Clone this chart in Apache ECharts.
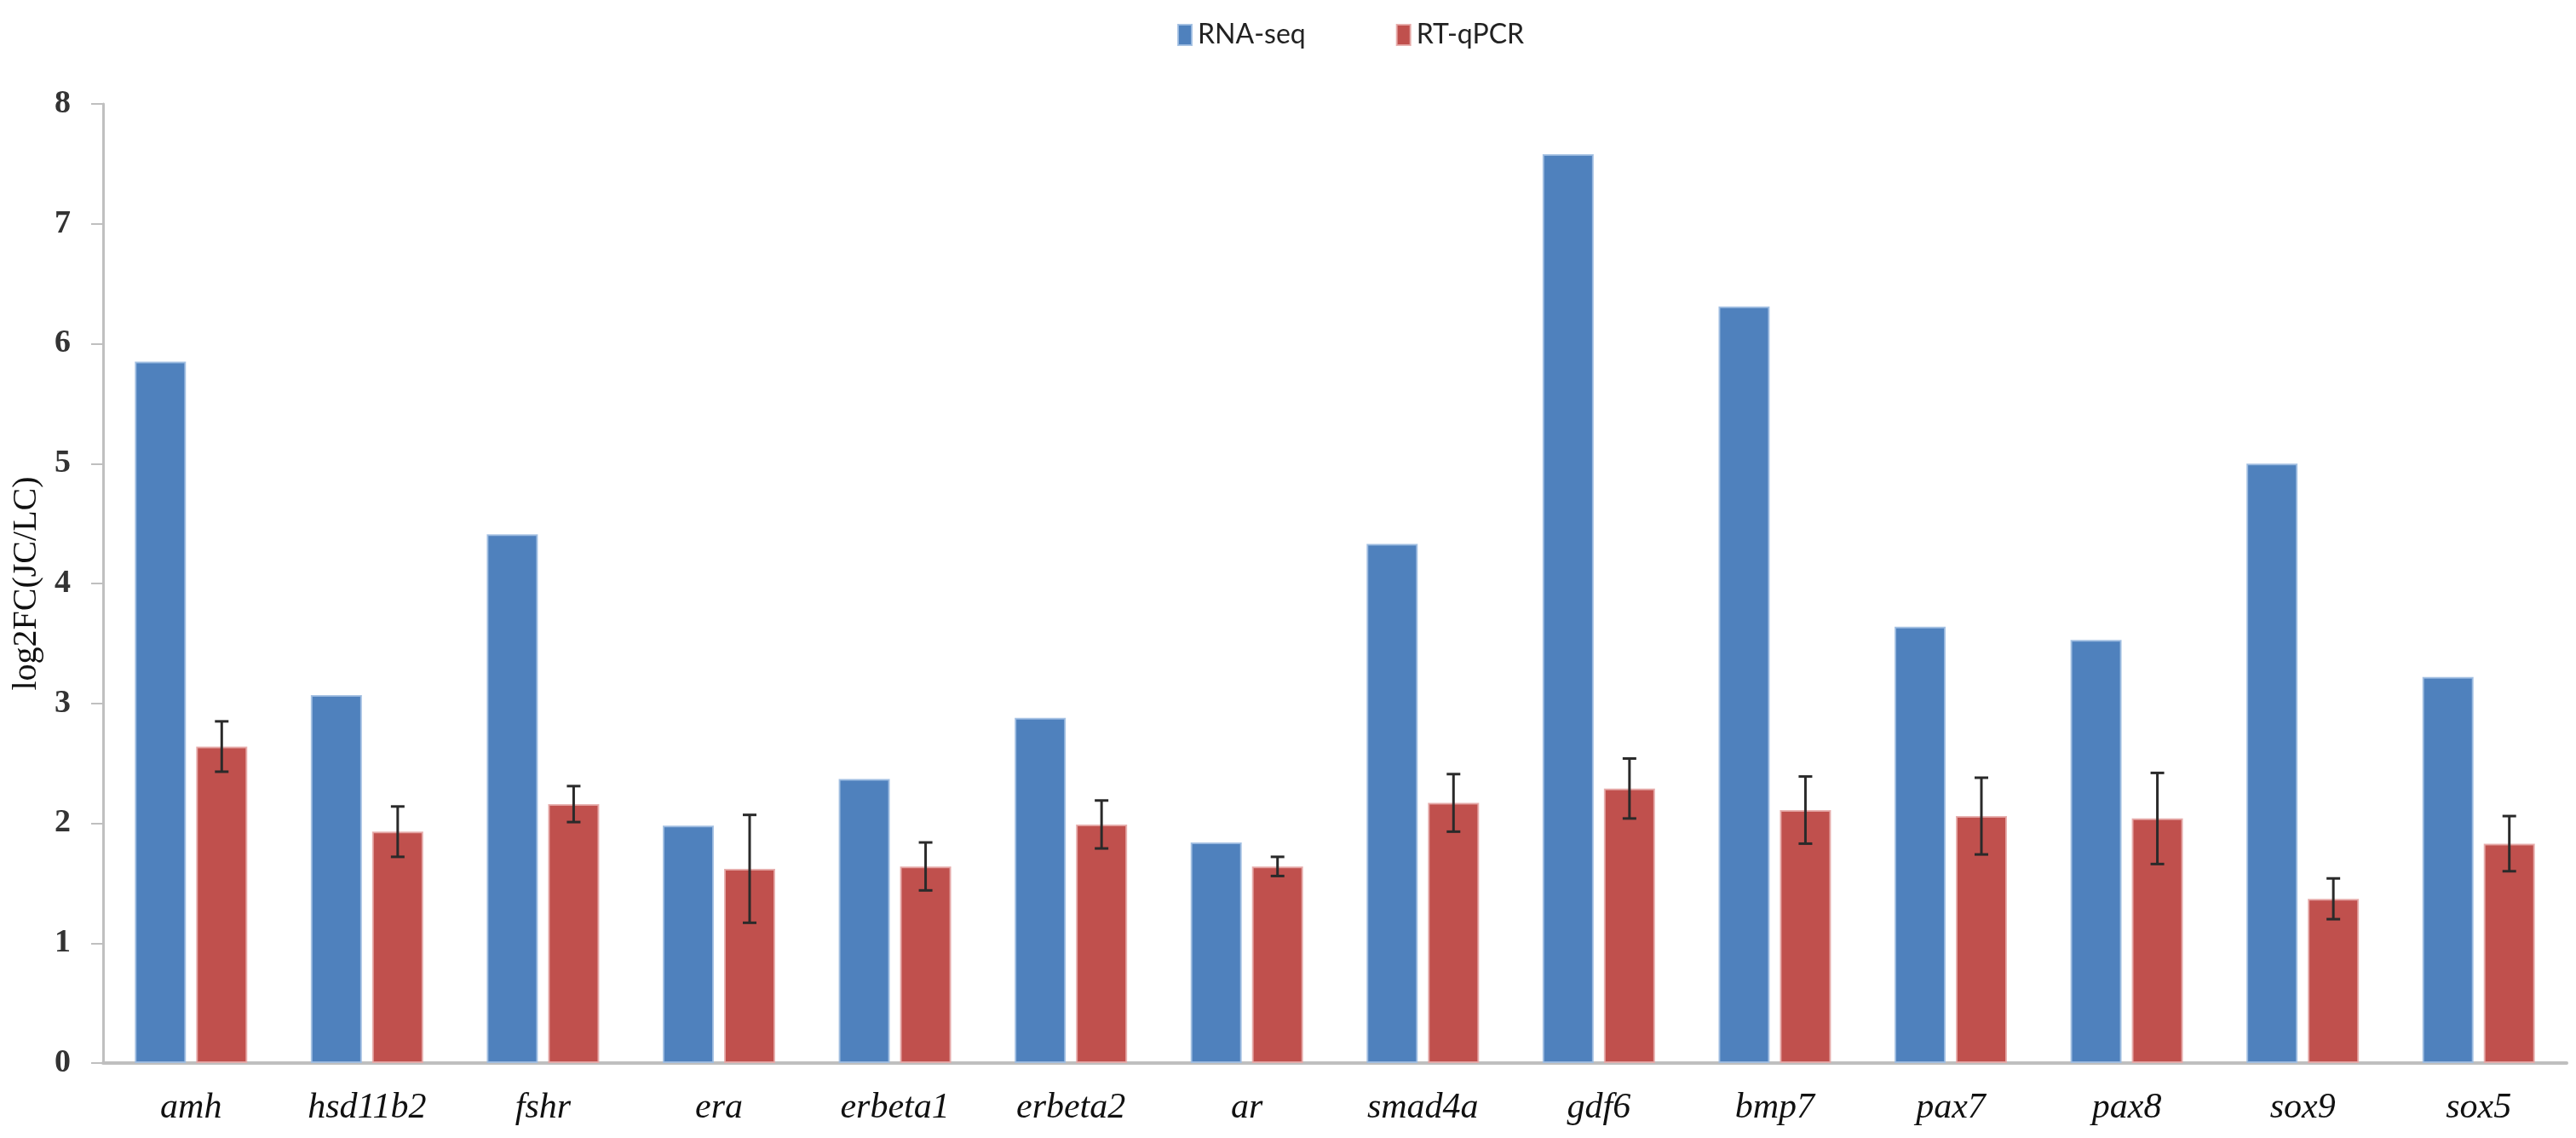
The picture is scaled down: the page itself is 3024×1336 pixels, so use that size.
<!DOCTYPE html>
<html>
<head>
<meta charset="utf-8">
<script src="https://cdn.jsdelivr.net/npm/echarts@6/dist/echarts.min.js"></script>
<style>
html,body{margin:0;padding:0;background:#fff;}
#chart{width:3024px;height:1336px;}
</style>
</head>
<body>
<div id="chart"></div>
<script>
const categories = ['amh','hsd11b2','fshr','era','erbeta1','erbeta2','ar','smad4a','gdf6','bmp7','pax7','pax8','sox9','sox5'];
const rnaSeq = [5.85, 3.07, 4.41, 1.98, 2.37, 2.88, 1.84, 4.33, 7.58, 6.31, 3.64, 3.53, 5.00, 3.22];
const rtqpcr = [2.64, 1.93, 2.16, 1.62, 1.64, 1.99, 1.64, 2.17, 2.29, 2.11, 2.06, 2.04, 1.37, 1.83];
const rtqpcrErr = [0.21, 0.21, 0.15, 0.45, 0.20, 0.20, 0.08, 0.24, 0.25, 0.28, 0.32, 0.38, 0.17, 0.23];
const yTicks = [0,1,2,3,4,5,6,7,8];

const BAR_W = 60;
const BAR_GAP = 0.20;
const errData = rtqpcr.map((v, i) => [i, v - rtqpcrErr[i], v + rtqpcrErr[i]]);

const chart = echarts.init(document.getElementById('chart'));
chart.setOption({
  animation: false,
  backgroundColor: '#ffffff',
  legend: {
    left: 1377,
    top: 20,
    itemWidth: 16,
    itemHeight: 24,
    itemGap: 106,
    icon: 'rect',
    textStyle: { fontFamily: "Lato, sans-serif", fontSize: 32, color: '#222', padding: [0,0,0,2] },
    data: ['RNA-seq', 'RT-qPCR']
  },
  grid: { left: 121, right: 11, top: 122, bottom: 88, containLabel: false },
  xAxis: {
    type: 'category',
    data: categories,
    axisLine: { lineStyle: { color: '#BFBFBF', width: 4 } },
    axisTick: { show: false },
    axisLabel: {
      fontFamily: 'Liberation Serif',
      fontStyle: 'italic',
      fontSize: 42,
      color: '#111',
      margin: 32
    }
  },
  yAxis: {
    type: 'value',
    min: 0,
    max: 8,
    interval: 1,
    name: 'log2FC(JC/LC)',
    nameLocation: 'middle',
    nameGap: 70,
    nameTextStyle: { fontFamily: 'Liberation Serif', fontSize: 40, color: '#111' },
    axisLine: { show: true, lineStyle: { color: '#BFBFBF', width: 3 } },
    axisTick: { show: true, length: 14, lineStyle: { color: '#BFBFBF', width: 2 } },
    splitLine: { show: false },
    axisLabel: {
      fontFamily: 'Liberation Serif',
      fontWeight: 'bold',
      fontSize: 38,
      color: '#333',
      margin: 38,
      formatter: v => (yTicks.indexOf(v) >= 0 ? String(v) : '')
    }
  },
  series: [
    {
      name: 'RNA-seq',
      type: 'bar',
      data: rnaSeq,
      barWidth: BAR_W,
      barGap: (BAR_GAP * 100) + '%',
      itemStyle: { color: '#4F81BD', borderColor: 'rgba(160,190,225,0.9)', borderWidth: 2 }
    },
    {
      name: 'RT-qPCR',
      type: 'bar',
      data: rtqpcr,
      barWidth: BAR_W,
      itemStyle: { color: '#C0504D', borderColor: 'rgba(230,170,168,0.9)', borderWidth: 2 }
    },
    {
      name: 'err',
      type: 'custom',
      data: errData,
      encode: { x: 0, y: [1, 2] },
      z: 10,
      silent: true,
      renderItem: function (params, api) {
        const off = (BAR_W + BAR_W * BAR_GAP) / 2;
        const lo = api.coord([api.value(0), api.value(1)]);
        const hi = api.coord([api.value(0), api.value(2)]);
        const x = lo[0] + off;
        const cap = 8;
        const style = { stroke: '#2a2a2a', lineWidth: 3 };
        return {
          type: 'group',
          children: [
            { type: 'line', shape: { x1: x, y1: lo[1], x2: x, y2: hi[1] }, style: style },
            { type: 'line', shape: { x1: x - cap, y1: lo[1], x2: x + cap, y2: lo[1] }, style: style },
            { type: 'line', shape: { x1: x - cap, y1: hi[1], x2: x + cap, y2: hi[1] }, style: style }
          ]
        };
      }
    }
  ]
});
</script>
</body>
</html>
